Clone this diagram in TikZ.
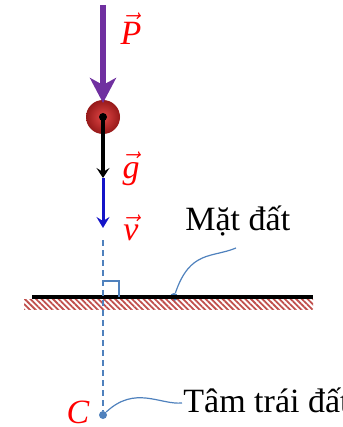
\documentclass[tikz,border=0pt]{standalone}
\usepackage{fontspec}
\setmainfont{Liberation Serif}
\usetikzlibrary{arrows.meta, patterns.meta, positioning}

\definecolor{forcepurple}{RGB}{112,48,160}
\definecolor{linkblue}{RGB}{79,129,189}
\definecolor{speedblue}{RGB}{20,20,200}
\definecolor{hatchred}{RGB}{192,80,77}
\definecolor{balllight}{RGB}{225,70,70}
\definecolor{balldark}{RGB}{150,25,25}

\begin{document}
\begin{tikzpicture}[
        x=0.5pt, y=-0.5pt,
        font=\fontsize{17}{20}\selectfont,
        ball/.style={circle, shading=radial, inner color=balllight, outer color=balldark, minimum size=17pt, inner sep=0pt},
        dot/.style={circle, fill=linkblue, minimum size=4pt, inner sep=0pt},
        veclabel/.style={text=red, inner sep=0pt, anchor=base},
        plainlabel/.style={inner sep=0pt, anchor=base west},
        link/.style={linkblue, line width=0.6pt},
        force/.style={forcepurple, line width=3pt, -{Stealth[length=12.5pt, width=13pt, inset=3.5pt]}},
        gravity/.style={black, line width=1.8pt, -{Stealth[length=5pt, width=6.5pt, inset=2pt]}},
        speed/.style={speedblue, line width=1.5pt, -{Stealth[length=5.5pt, width=6.5pt, inset=2pt]}}
    ]
    \useasboundingbox (0,0) rectangle (342,427);

    % Nodes
    \node (ball) [ball] at (103,117) {};
    \coordinate (ptop) at (103,5);
    \coordinate (ptip) at (103,103);
    \coordinate (gtip) at (103,178);
    \coordinate (vtip) at (103,228);
    \coordinate (dtop) at (103,240);
    \node (earth) [dot] at (103,415) {};

    \coordinate (groundl) at (32,297);
    \coordinate (groundr) at (313,297);
    \node (gdot) [dot] at (174,297) {};

    \node (plbl) [veclabel] at (131,45) {$\vec{\textit{P}}$};
    \node (glbl) [veclabel] at (131,178) {$\vec{\textit{g}}$};
    \node (vlbl) [veclabel] at (131,240) {$\vec{\textit{v}}$};
    \node (clbl) [veclabel] at (78,423) {\textit{C}};

    \node (matlbl) [plainlabel] at (185,230) {Mặt đất};
    \coordinate (matend) at (236,248);
    \node (tamlbl) [plainlabel] at (183,412) {Tâm trái đất};
    \coordinate (tamend) at (182,403);

    % Ground
    \fill [pattern={Lines[angle=-45, distance=2pt, line width=0.9pt]}, pattern color=hatchred] (24,299) rectangle (313,309);
    \draw [line width=2pt] (groundl) -- (groundr);

    % Connections
    \draw [force] (ptop) -- (ptip);
    \draw [gravity] (ball.center) -- (gtip);
    \fill (ball.center) circle (2pt);
    \draw [speed] (gtip) -- (vtip);
    \draw [linkblue, line width=0.8pt, dash pattern=on 3pt off 2pt] (dtop) -- (earth);
    \draw [linkblue, line width=1pt] (103,281) -| (119,297);
    \draw [link] (gdot) .. controls (190,250) and (212,258) .. (matend);
    \draw [link] (earth) .. controls (135,385) and (160,405) .. (tamend);

\end{tikzpicture}
\end{document}
